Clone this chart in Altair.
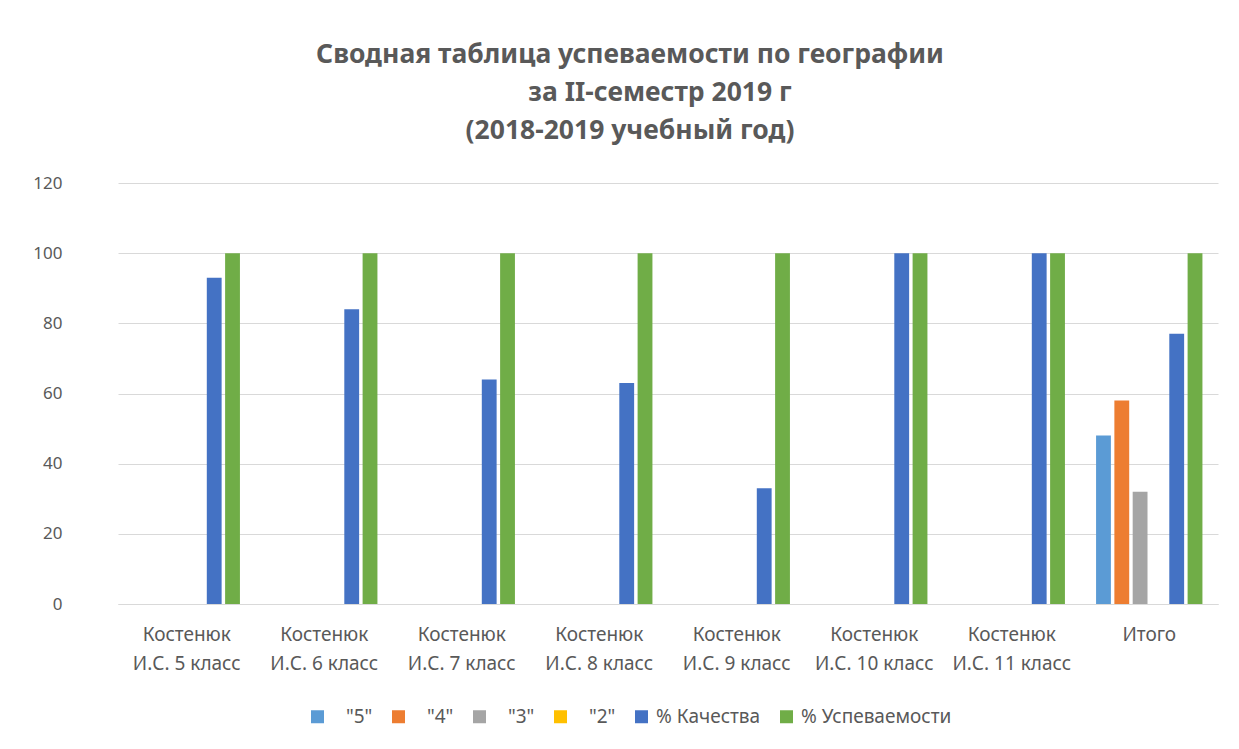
import altair as alt
import pandas as pd

categories = [
    "Костенюк\nИ.С. 5 класс",
    "Костенюк\nИ.С. 6 класс",
    "Костенюк\nИ.С. 7 класс",
    "Костенюк\nИ.С. 8 класс",
    "Костенюк\nИ.С. 9 класс",
    "Костенюк\nИ.С. 10 класс",
    "Костенюк\nИ.С. 11 класс",
    "Итого",
]
series = ['"5"', '"4"', '"3"', '"2"', "% Качества", "% Успеваемости"]
colors = ["#5B9BD5", "#ED7D31", "#A5A5A5", "#FFC000", "#4472C4", "#70AD47"]

v5 = [None, None, None, None, None, None, None, 48]
v4 = [None, None, None, None, None, None, None, 58]
v3 = [None, None, None, None, None, None, None, 32]
v2 = [None, None, None, None, None, None, None, 0]
kach = [93, 84, 64, 63, 33, 100, 100, 77]
usp = [100, 100, 100, 100, 100, 100, 100, 100]

values = [v5, v4, v3, v2, kach, usp]
rows = []
for s, vals in zip(series, values):
    for c, v in zip(categories, vals):
        rows.append({"cat": c, "series": s, "value": v})
df = pd.DataFrame(rows)

grey = "#595959"
font = "Noto Sans"
blank = "\u2800"

chart = (
    alt.Chart(df)
    .mark_bar()
    .encode(
        x=alt.X(
            "cat:N",
            sort=categories,
            scale=alt.Scale(paddingInner=0, paddingOuter=0),
            axis=alt.Axis(
                title=None,
                labelAngle=0,
                labelExpr="split(datum.label, '\\n')",
                labelFontSize=19,
                labelColor=grey,
                labelPadding=21,
                labelLineHeight=29,
                ticks=False,
                domain=True,
                domainColor="#d9d9d9",
                grid=False,
                labelFont=font,
            ),
        ),
        xOffset=alt.XOffset(
            "series:N",
            sort=series,
            scale=alt.Scale(domain=series, paddingInner=0.19, paddingOuter=0.85),
        ),
        y=alt.Y(
            "value:Q",
            scale=alt.Scale(domain=[0, 120]),
            axis=alt.Axis(
                title=None,
                values=[0, 20, 40, 60, 80, 100, 120],
                labelFontSize=17,
                labelColor=grey,
                labelPadding=56,
                ticks=False,
                domain=False,
                gridColor="#d9d9d9",
                gridWidth=1.2,
                labelFont=font,
            ),
        ),
        color=alt.Color(
            "series:N",
            sort=series,
            scale=alt.Scale(domain=series, range=colors),
            legend=alt.Legend(
                title=None,
                orient="none",
                legendX=190,
                legendY=524,
                direction="horizontal",
                symbolType="square",
                symbolSize=169,
                symbolStrokeWidth=0,
                labelFontSize=19,
                labelColor=grey,
                labelFont=font,
                labelExpr="indexof(datum.label, '%') == 0 ? datum.label : '" + blank + "' + datum.label",
                columnPadding=16,
                labelOffset=5,
            ),
        ),
    )
    .properties(
        width=1100,
        height=421,
        title=alt.Title(
            text=[
                "Сводная таблица успеваемости по географии",
                blank * 3 + "за II-семестр 2019 г",
                "(2018-2019 учебный год)",
            ],
            fontSize=26.5,
            fontWeight="bold",
            color=grey,
            font=font,
            anchor="middle",
            lineHeight=38,
            offset=30,
            dx=-38,
        ),
        autosize=alt.AutoSizeParams(type="none"),
        padding={"left": 110, "top": 175, "right": 13, "bottom": 130},
        background="white",
    )
    .configure_view(strokeWidth=0, stroke="transparent")
)

chart.save("out.html", embed_options={"renderer": "svg", "actions": False})
